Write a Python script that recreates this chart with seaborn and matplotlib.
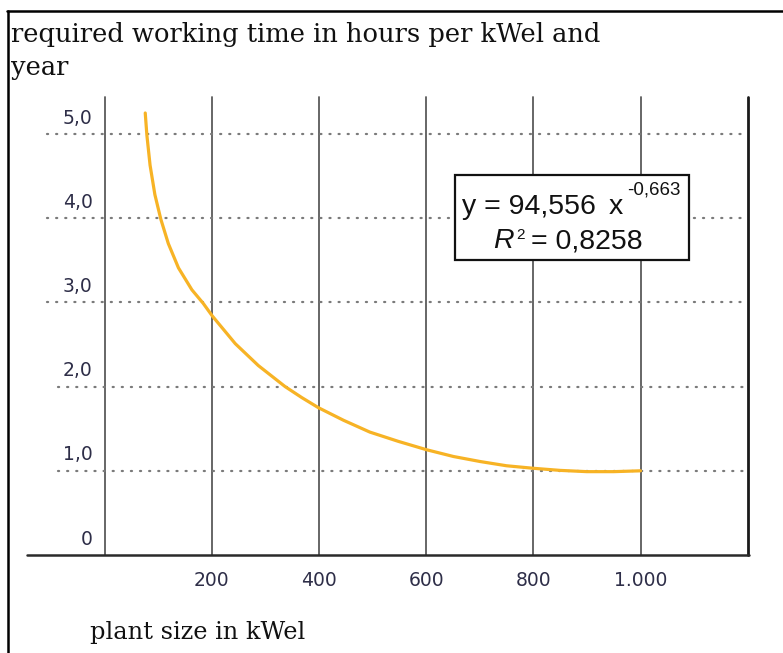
import matplotlib
matplotlib.use("Agg")
import matplotlib.pyplot as plt
import seaborn as sns
import pandas as pd
from matplotlib.lines import Line2D
from matplotlib.patches import Rectangle

# ---- data ----
plant_size = [76, 79, 85, 94, 105, 119, 138, 163, 184, 201, 244, 287, 337, 368, 399,
              446, 495, 548, 601, 651, 701, 750, 800, 850, 900, 950, 1000]
work_time = [5.25, 4.99, 4.63, 4.28, 3.99, 3.70, 3.41, 3.15, 2.99, 2.84, 2.51, 2.25,
             2.0, 1.87, 1.75, 1.60, 1.46, 1.35, 1.25, 1.17, 1.11, 1.06, 1.03, 1.005,
             0.99, 0.99, 1.0]
x_ticks = [200, 400, 600, 800, 1000]
x_tick_labels = ["200", "400", "600", "800", "1.000"]
x_grid = [0, 200, 400, 600, 800, 1000, 1200]
y_ticks = [0, 1, 2, 3, 4, 5]
y_tick_labels = ["0", "1,0", "2,0", "3,0", "4,0", "5,0"]
title_text = "required working time in hours per kWel and\nyear"
xlabel_text = "plant size in kWel"
eq_left = "y = 94,556"
eq_x = "x"
eq_exp = "-0,663"
eq_r = "R"
eq_sq = "2"
eq_right = "= 0,8258"

sns.set_theme(style="white")
plt.rcParams['font.family'] = ['DejaVu Sans']

W, H = 783, 653
fig = plt.figure(figsize=(W / 100, H / 100), dpi=100)
fig.patch.set_facecolor("white")

def fx(px):
    return px / W

def fy(py):
    return 1 - py / H

ax = fig.add_axes([fx(27), fy(555), fx(749) - fx(27), fy(97) - fy(555)])
ax.set_xlim(-144.6, 1202.4)
ax.set_ylim(0, 5.44)
for s in ax.spines.values():
    s.set_visible(False)
ax.set_xticks([])
ax.set_yticks([])
ax.set_facecolor("white")

# vertical grid lines
for xv in x_grid:
    col = "#1a1a1a" if xv == 1200 else "#5a5a5a"
    lw = 2.0 if xv == 1200 else 1.3
    ax.plot([xv, xv], [0, 5.44], color=col, lw=lw, clip_on=False, zorder=1)

# dotted horizontal lines
for yv in y_ticks[1:]:
    x0 = -107 if yv >= 3 else -86
    ax.plot([x0, 1193], [yv, yv], color="#7a7a7a", lw=1.6,
            linestyle=(0, (0.5, 3.6)), dash_capstyle="round", zorder=1)

# baseline
ax.plot([-144.6, 1202.4], [0, 0], color="#2a2a2a", lw=1.8, clip_on=False, zorder=2)

# curve
df = pd.DataFrame({"plant_size": plant_size, "work_time": work_time})
sns.lineplot(data=df, x="plant_size", y="work_time", ax=ax, color="#f7b325",
             lw=2.3, sort=True, zorder=3, solid_joinstyle="round",
             solid_capstyle="round")
ax.set_xlabel("")
ax.set_ylabel("")

tick_color = "#2e2e48"
tick_font = ["DejaVu Sans"]
for yv, lab in zip(y_ticks, y_tick_labels):
    ax.text(-22, yv + 0.19, lab, ha="right", va="center", fontsize=13.5,
            color=tick_color, family=tick_font, clip_on=False)
for xv, lab in zip(x_ticks, x_tick_labels):
    ax.text(xv, -0.30, lab, ha="center", va="center", fontsize=13.5,
            color=tick_color, family=tick_font, clip_on=False)

# titles
serif = ["DejaVu Serif"]
fig.text(fx(11), fy(22), title_text, ha="left", va="top", fontsize=18.5,
         family=serif, color="#111111", linespacing=1.42)
fig.text(fx(90), fy(632), xlabel_text, ha="left", va="center", fontsize=17.3,
         family=serif, color="#111111")

# equation box
fig.patches.append(Rectangle((fx(455), fy(260)), fx(689) - fx(455), fy(175) - fy(260),
                             transform=fig.transFigure, facecolor="white",
                             edgecolor="#111111", lw=1.6, zorder=5))
sansf = ["Liberation Sans"]
fig.text(fx(462), fy(207), eq_left, ha="left", va="center", fontsize=20.5,
         family=sansf, color="#111111", zorder=6)
fig.text(fx(609), fy(207), eq_x, ha="left", va="center", fontsize=20.5,
         family=sansf, color="#111111", zorder=6)
fig.text(fx(627), fy(190), eq_exp, ha="left", va="center", fontsize=13.5,
         family=sansf, color="#111111", zorder=6)
fig.text(fx(493), fy(241), eq_r, ha="left", va="center", fontsize=20.5,
         family=sansf, style="italic", color="#111111", zorder=6)
fig.text(fx(516), fy(235), eq_sq, ha="left", va="center", fontsize=11,
         family=sansf, color="#111111", zorder=6)
fig.text(fx(531), fy(241), eq_right, ha="left", va="center", fontsize=20.5,
         family=sansf, color="#111111", zorder=6)

# outer frame (top and left)
fig.lines.append(Line2D([fx(7), fx(783)], [fy(11), fy(11)], transform=fig.transFigure,
                        color="#000000", lw=1.8))
fig.lines.append(Line2D([fx(8), fx(8)], [fy(11), fy(653)], transform=fig.transFigure,
                        color="#000000", lw=1.8))

fig.savefig("out.png", dpi=100, facecolor="white")
